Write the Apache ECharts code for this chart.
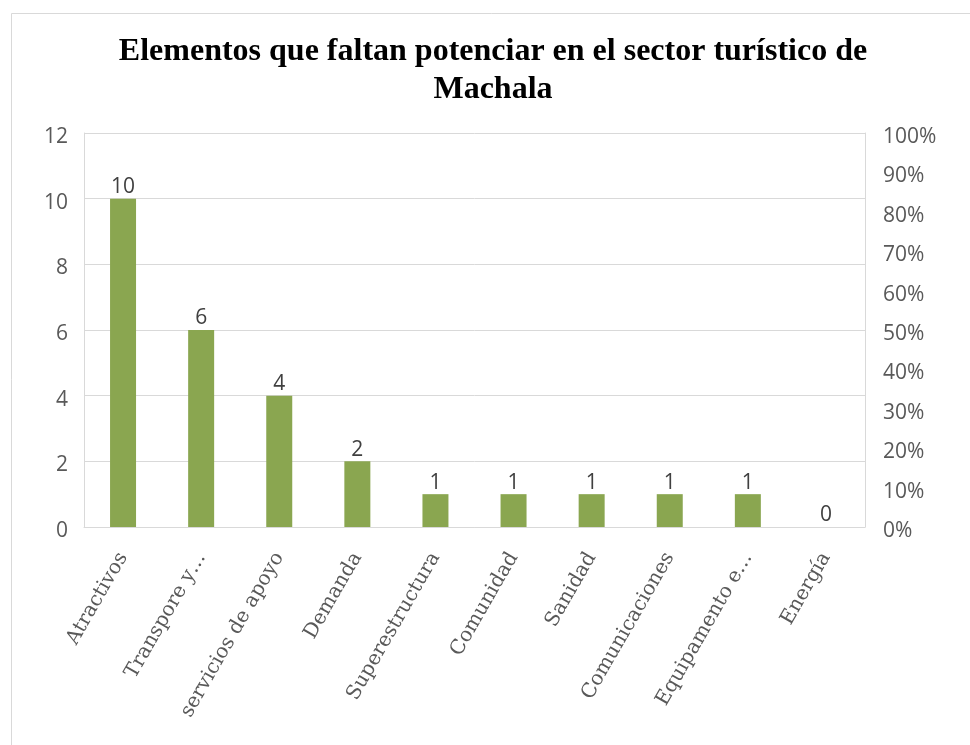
<!DOCTYPE html>
<html>
<head>
<meta charset="utf-8">
<script src="https://cdn.jsdelivr.net/npm/echarts@6/dist/echarts.min.js"></script>
<style>html,body{margin:0;padding:0;background:#fff}#c{width:970px;height:745px}</style>
</head>
<body>
<div id="c"></div>
<script>
const categories = ["Atractivos", "Transpore y…", "servicios de apoyo", "Demanda", "Superestructura", "Comunidad", "Sanidad", "Comunicaciones", "Equipamento e…", "Energía"];
const values = [10, 6, 4, 2, 1, 1, 1, 1, 1, 0];
const titleText = "Elementos que faltan potenciar en el sector turístico de\nMachala";

const axisRich = {a: {fontFamily: 'Open Sans', fontSize: 21, color: '#595959', padding: [8, 0, 0, 0]}};

const chart = echarts.init(document.getElementById('c'), null, {renderer: 'canvas'});
chart.setOption({
  animation: false,
  backgroundColor: '#fff',
  graphic: [{
    type: 'rect', left: 9, top: 11, shape: {width: 980, height: 760},
    style: {fill: 'none', stroke: '#d9d9d9', lineWidth: 1}
  }],
  title: {
    text: titleText, left: 488, top: 28, textAlign: 'center',
    textStyle: {fontFamily: 'Liberation Serif', fontWeight: 'bold', fontSize: 32, color: '#000', lineHeight: 38}
  },
  grid: {left: 84, right: 105, top: 133, bottom: 218, containLabel: false},
  xAxis: {
    type: 'category', data: categories,
    axisLine: {show: true, lineStyle: {color: '#d9d9d9'}},
    axisTick: {show: false},
    axisLabel: {interval: 0, rotate: 60, margin: 27, fontFamily: 'DejaVu Serif', fontSize: 20, color: '#595959'}
  },
  yAxis: [{
    type: 'value', min: 0, max: 12, interval: 2,
    axisLine: {show: true, lineStyle: {color: '#d9d9d9'}},
    axisTick: {show: false},
    splitLine: {lineStyle: {color: '#d9d9d9'}},
    axisLabel: {margin: 16, formatter: v => '{a|' + v + '}', rich: axisRich}
  }, {
    type: 'value', min: 0, max: 1, interval: 0.1, position: 'right',
    axisLine: {show: true, lineStyle: {color: '#d9d9d9'}},
    axisTick: {show: false},
    splitLine: {show: false},
    axisLabel: {margin: 18, formatter: v => '{a|' + Math.round(v * 100) + '%}', rich: axisRich}
  }],
  series: [{
    type: 'bar', data: values, barWidth: 26, yAxisIndex: 0,
    itemStyle: {color: '#8aa650'},
    label: {show: true, position: 'top', distance: 1, fontFamily: 'Open Sans', fontSize: 21, color: '#404040'}
  }]
});
</script>
</body>
</html>
